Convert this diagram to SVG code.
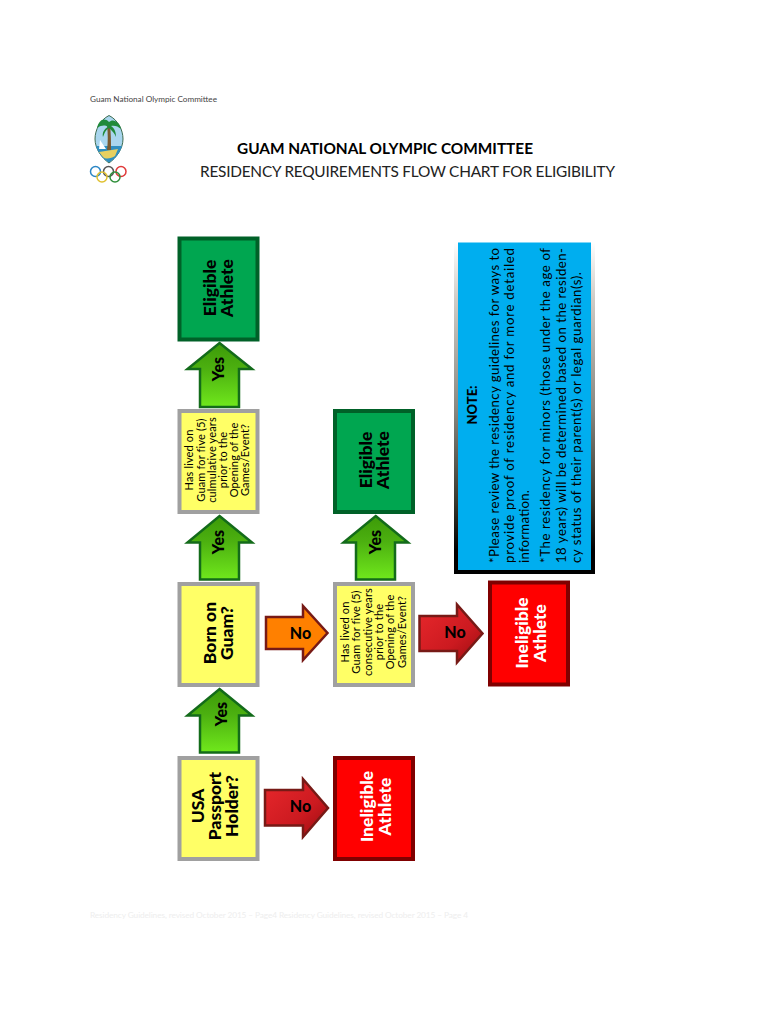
<svg xmlns="http://www.w3.org/2000/svg" width="770" height="1024" viewBox="0 0 770 1024">
<style>
text{font-family:"Lato","Open Sans","Liberation Sans",sans-serif;fill:#000}
.yb{fill:#ffff66;stroke:#a0a0a0;stroke-width:4}
.gb{fill:#00a650;stroke:#006128;stroke-width:4}
.rb{fill:#ff0000;stroke:#800000;stroke-width:4}
.ag{fill:url(#gg);stroke:#136b1a;stroke-width:2.5;stroke-linejoin:miter}
.ar{fill:url(#gr);stroke:#771a16;stroke-width:2.5}
.ao{fill:#ff8000;stroke:#771a16;stroke-width:2.5}
.big{font-size:17.5px;font-weight:900;text-anchor:middle}
.lbl{font-size:16px;font-weight:900;text-anchor:middle}
.sm{font-size:11px;text-anchor:middle;letter-spacing:.15px}
.note{font-size:13.2px}
.ring{fill:none;stroke-width:1.5}
</style>
<defs>
<linearGradient id="gg" x1="0" y1="0" x2="0" y2="1"><stop offset="0" stop-color="#3c9a08"/><stop offset="0.4" stop-color="#4cb010"/><stop offset="1" stop-color="#70e81c"/></linearGradient>
<linearGradient id="gr" x1="0" y1="0" x2="1" y2="1"><stop offset="0" stop-color="#e8282c"/><stop offset="0.6" stop-color="#cc1a20"/><stop offset="1" stop-color="#980c10"/></linearGradient>
<linearGradient id="nb" x1="0" y1="0" x2="0" y2="1"><stop offset="0" stop-color="#ffffff"/><stop offset="0.17" stop-color="#d0ccc6"/><stop offset="0.5" stop-color="#8a8880"/><stop offset="0.78" stop-color="#38382e"/><stop offset="0.93" stop-color="#000"/></linearGradient>
</defs>
<rect width="770" height="1024" fill="#fff"/>
<g id="header">
<text x="90" y="102" font-size="8.2" textLength="127" style="fill:#444">Guam National Olympic Committee</text>
<text x="237" y="154" font-size="15.4" font-weight="700" textLength="296">GUAM NATIONAL OLYMPIC COMMITTEE</text>
<text x="200" y="177" font-size="15.4" textLength="415" style="fill:#222">RESIDENCY REQUIREMENTS FLOW CHART FOR ELIGIBILITY</text>
</g>
<g id="logo">
<path d="M109 115.500C118 120 123 130 123 139C123 149 116 158 109 163C102 158 95 149 95 139C95 130 100 120 109 115.500Z" fill="#a9d6ee" stroke="#3c6a50" stroke-width="1"/>
<path d="M96 146L122 146C120 153 115 159 109 162.500C103 159 98 153 96 146Z" fill="#2f8fc0"/>
<path d="M99 152L118 149L115 156C112 158 106 160 103 157Z" fill="#e8d060"/>
<path d="M107 150C108 142 108 134 107 125L110 125C111 134 111 142 111 150Z" fill="#7a5a30"/>
<path d="M109 122C104 117 99 120 97 128C102 125 105 125 108 127C104 129 102 133 103 137C105 131 107 129 109 128C111 130 114 132 116 137C116 131 114 128 111 126C114 125 118 126 121 129C120 122 113 118 109 122Z" fill="#1f8a3a"/>
<path d="M99 149L100 140L106 149Z" fill="#fff"/>
<g id="rings">
<circle class="ring" cx="95.500" cy="171.500" r="5" stroke="#2b86c5"/>
<circle class="ring" cx="108.500" cy="171.500" r="5" stroke="#555"/>
<circle class="ring" cx="121" cy="171.500" r="5" stroke="#e03a3a"/>
<circle class="ring" cx="102" cy="177" r="5" stroke="#e0c030"/>
<circle class="ring" cx="115" cy="177" r="5" stroke="#2f8f3a"/>
</g>
</g>
<g id="connectors">
<path id="c1" class="ag" d="M219.500 343L252 369H239V407H200V369H187.500Z"/>
<path id="c2" class="ag" d="M219.500 516L252 542.500H239V579.500H200V542.500H187.500Z"/>
<path id="c3" class="ag" d="M219.500 689L252 715.500H239V752.500H200V715.500H187.500Z"/>
<path id="c4" class="ag" d="M375.700 516L408 542.500H395V579.500H356V542.500H343.500Z"/>
<path id="c5" class="ao" d="M266 617H303V606L327.500 633L303 660V649H266Z"/>
<path id="c6" class="ar" d="M265 790H303V779L328 808L303 837V825.500H265Z"/>
<path id="c7" class="ar" d="M419.500 616H457V604.500L482.500 633.500L457 662.500V651H419.500Z"/>
<text class="lbl" transform="translate(224 369) rotate(-90)">Yes</text>
<text class="lbl" transform="translate(224 542) rotate(-90)">Yes</text>
<text class="lbl" transform="translate(226.500 714) rotate(-90)">Yes</text>
<text class="lbl" transform="translate(380.500 542) rotate(-90)">Yes</text>
<text class="lbl" x="300.500" y="638.500">No</text>
<text class="lbl" x="300.500" y="812">No</text>
<text class="lbl" x="455" y="638">No</text>
</g>
<g id="eligible-1"><rect class="gb" x="179.500" y="238.500" width="78" height="101"/>
<text class="big" transform="translate(215.500 288) rotate(-90)">Eligible</text>
<text class="big" transform="translate(233 288) rotate(-90)">Athlete</text></g>
<g id="cumulative"><rect class="yb" x="179.500" y="411" width="78" height="101"/>
<text class="sm" transform="translate(192.500 460) rotate(-90)">Has lived on</text>
<text class="sm" transform="translate(204.500 460) rotate(-90)">Guam for five (5)</text>
<text class="sm" transform="translate(215.500 460) rotate(-90)">culmulative years</text>
<text class="sm" transform="translate(226.500 460) rotate(-90)">prior to the</text>
<text class="sm" transform="translate(238 460) rotate(-90)">Opening of the</text>
<text class="sm" transform="translate(249 460) rotate(-90)">Games/Event?</text></g>
<g id="born"><rect class="yb" x="179.500" y="584" width="78" height="101"/>
<text class="big" transform="translate(215.500 633) rotate(-90)">Born on</text>
<text class="big" transform="translate(232.500 633) rotate(-90)">Guam?</text></g>
<g id="passport"><rect class="yb" x="179.500" y="758" width="78" height="101"/>
<text class="big" transform="translate(204 806) rotate(-90)">USA</text>
<text class="big" transform="translate(220.500 806) rotate(-90)">Passport</text>
<text class="big" transform="translate(237.500 806) rotate(-90)">Holder?</text></g>
<g id="eligible-2"><rect class="gb" x="335" y="411" width="78" height="101"/>
<text class="big" transform="translate(371.500 460) rotate(-90)">Eligible</text>
<text class="big" transform="translate(389 460) rotate(-90)">Athlete</text></g>
<g id="consecutive"><rect class="yb" x="335" y="584" width="78" height="101"/>
<text class="sm" transform="translate(349 632) rotate(-90)">Has lived on</text>
<text class="sm" transform="translate(360 632) rotate(-90)">Guam for five (5)</text>
<text class="sm" transform="translate(371.500 632) rotate(-90)">consecutive years</text>
<text class="sm" transform="translate(383 632) rotate(-90)">prior to the</text>
<text class="sm" transform="translate(394 632) rotate(-90)">Opening of the</text>
<text class="sm" transform="translate(405.500 632) rotate(-90)">Games/Event?</text></g>
<g id="ineligible-1"><rect class="rb" x="335" y="758" width="78" height="101"/>
<text class="big" style="fill:#fff" transform="translate(373 806.500) rotate(-90)">Ineligible</text>
<text class="big" style="fill:#fff" transform="translate(390.500 806.500) rotate(-90)">Athlete</text></g>
<g id="ineligible-2"><rect class="rb" x="490" y="582.500" width="78" height="102"/>
<text class="big" style="fill:#fff" transform="translate(528 633) rotate(-90)">Ineligible</text>
<text class="big" style="fill:#fff" transform="translate(545.500 633) rotate(-90)">Athlete</text></g>
<g id="note">
<rect x="454" y="242" width="141" height="332" fill="url(#nb)"/>
<rect x="458" y="242.500" width="133" height="327.500" fill="#00aeef"/>
<text transform="translate(477 405) rotate(-90)" font-size="13" font-weight="900" text-anchor="middle">NOTE:</text>
<text class="note" transform="translate(499 563) rotate(-90)" textLength="315">*Please review the residency guidelines for ways to</text>
<text class="note" transform="translate(514 563) rotate(-90)" textLength="315">provide proof of residency and for more detailed</text>
<text class="note" transform="translate(529 563) rotate(-90)" textLength="73">information.</text>
<text class="note" transform="translate(550 563) rotate(-90)" textLength="315">*The residency for minors (those under the age of</text>
<text class="note" transform="translate(566 563) rotate(-90)" textLength="315">18 years) will be determined based on the residen-</text>
<text class="note" transform="translate(581 563) rotate(-90)" textLength="291">cy status of their parent(s) or legal guardian(s).</text>
</g>
<g id="footer">
<text x="90" y="918" font-size="8.3" textLength="378" style="fill:#eeeeee">Residency Guidelines, revised October 2015 – Page4 Residency Guidelines, revised October 2015 – Page 4</text>
</g>
</svg>
